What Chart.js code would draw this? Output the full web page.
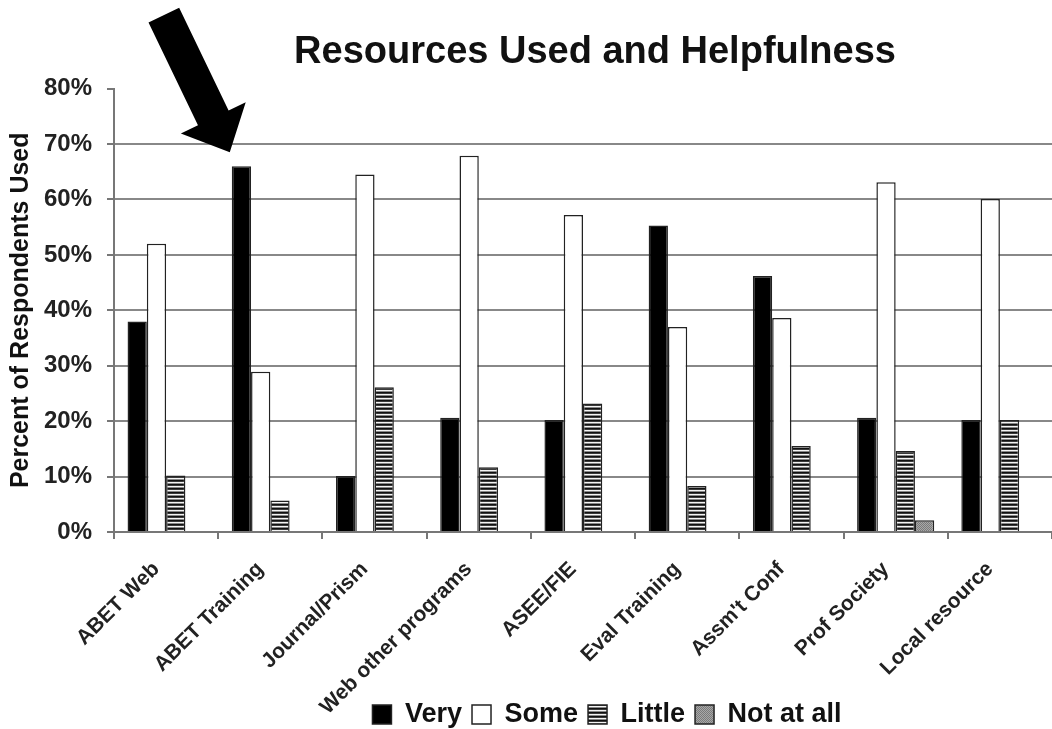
<!DOCTYPE html>
<html>
<head>
<meta charset="utf-8">
<script src="https://cdn.jsdelivr.net/npm/chart.js@4"></script>
<style>
html,body{margin:0;padding:0;background:#fff;}
canvas{display:block;}
</style>
</head>
<body>
<canvas id="c" width="1052" height="729"></canvas>
<script>
const categories = ['ABET Web','ABET Training','Journal/Prism','Web other programs','ASEE/FIE','Eval Training',"Assm't Conf",'Prof Society','Local resource'];
const seriesNames = ['Very','Some','Little','Not at all'];
const very     = [38.0, 66.0, 10.1, 20.6, 20.2, 55.3, 46.2, 20.6, 20.2];
const some     = [52.0, 28.9, 64.5, 67.9, 57.2, 37.0, 38.6, 63.1, 60.1];
const little   = [10.2,  5.7, 26.1, 11.7, 23.2,  8.3, 15.5, 14.6, 20.2];
const notAtAll = [ 0,    0,    0,    0,    0,    0,    0,    2.1,  0  ];
const yTickValues = [0,10,20,30,40,50,60,70,80];
const chartTitle = 'Resources Used and Helpfulness';
const yTitle = 'Percent of Respondents Used';
const highlightedCategory = 1; // arrow points at ABET Training

function stripePattern(){
  const c = document.createElement('canvas'); c.width = 4; c.height = 4;
  const g = c.getContext('2d');
  const rows = ['#111','#3a3a3a','#f4f4f4','#888'];
  rows.forEach((col,i)=>{ g.fillStyle = col; g.fillRect(0,i,4,1); });
  return g.createPattern(c,'repeat');
}
function dotPattern(){
  const c = document.createElement('canvas'); c.width = 2; c.height = 2;
  const g = c.getContext('2d');
  g.fillStyle = '#a8a8a8'; g.fillRect(0,0,2,2);
  g.fillStyle = '#7a7a7a'; g.fillRect(0,0,1,1); g.fillRect(1,1,1,1);
  return g.createPattern(c,'repeat');
}

const fills = ['#000000','#ffffff',stripePattern(),dotPattern()];
const values = [very, some, little, notAtAll];

const arrowPlugin = {
  id: 'arrow',
  afterDatasetsDraw(chart){
    const meta = chart.getDatasetMeta(0);
    const bar = meta.data[highlightedCategory];
    if(!bar) return;
    const ctx = chart.ctx;
    const tipX = bar.x - bar.width/2 - 2;
    const tipY = bar.y - 14;
    const ang = Math.atan2(135, 65);
    const len = 152, headLen = 38, shaftHalf = 17, headHalf = 36;
    const ux = Math.cos(ang), uy = Math.sin(ang);
    const px = -uy, py = ux;
    const bx = tipX - ux*headLen, by = tipY - uy*headLen;
    const tx = tipX - ux*len, ty = tipY - uy*len;
    ctx.save();
    ctx.fillStyle = '#000';
    ctx.beginPath();
    ctx.moveTo(tipX, tipY);
    ctx.lineTo(bx + px*headHalf, by + py*headHalf);
    ctx.lineTo(bx + px*shaftHalf, by + py*shaftHalf);
    ctx.lineTo(tx + px*shaftHalf, ty + py*shaftHalf);
    ctx.lineTo(tx - px*shaftHalf, ty - py*shaftHalf);
    ctx.lineTo(bx - px*shaftHalf, by - py*shaftHalf);
    ctx.lineTo(bx - px*headHalf, by - py*headHalf);
    ctx.closePath();
    ctx.fill();
    ctx.restore();
  }
};

// nudge title/legend placement and let the rotated x labels run beside the legend
const layoutPlugin = {
  id: 'layoutTweaks',
  afterLayout(chart){
    const t = chart.titleBlock, lg = chart.legend, xs = chart.scales.x;
    if(t){ t.left += 12; t.right += 12; }
    if(lg){ lg.left += 24; lg.right += 24; lg.top += 9; lg.bottom += 9; }
    if(xs){ xs.bottom = chart.height; }
  }
};

const FONT = "'Liberation Sans', Arial, sans-serif";

new Chart(document.getElementById('c'), {
  type: 'bar',
  data: {
    labels: categories,
    datasets: seriesNames.map((n,i)=>({
      label: n,
      data: values[i],
      backgroundColor: fills[i],
      borderColor: '#222',
      borderWidth: 1.5,
      categoryPercentage: 0.74,
      barPercentage: 1.0
    }))
  },
  options: {
    responsive: false,
    devicePixelRatio: 1,
    animation: false,
    layout: { padding: { left: 0, right: 0, top: 0, bottom: 0 } },
    plugins: {
      title: {
        display: true,
        fullSize: false,
        text: chartTitle,
        color: '#111',
        font: { family: FONT, size: 38, weight: 'bold' },
        padding: { top: 30, bottom: 13 }
      },
      legend: {
        display: true,
        fullSize: false,
        position: 'bottom',
        labels: {
          color: '#111',
          font: { family: FONT, size: 27, weight: 'bold' },
          boxWidth: 19, boxHeight: 19,
          padding: 10
        }
      },
      tooltip: { enabled: false }
    },
    scales: {
      x: {
        grid: { display: true, drawOnChartArea: false, drawTicks: true, tickLength: 7, color: '#777', lineWidth: 2, offset: true },
        border: { display: true, color: '#777', width: 2 },
        ticks: {
          autoSkip: false, minRotation: 45, maxRotation: 45,
          color: '#222', font: { family: FONT, size: 21, weight: 'bold' },
          labelOffset: -10, padding: 18
        },
        afterFit(scale){ scale.height = 150; }
      },
      y: {
        min: 0, max: 80,
        afterBuildTicks(scale){ scale.ticks = yTickValues.map(v=>({value:v})); },
        ticks: {
          callback: v => v + '%',
          color: '#222', font: { family: FONT, size: 24, weight: 'bold' }, padding: 15
        },
        grid: {
          color: c => (c.tick && c.tick.value === 80) ? 'rgba(0,0,0,0)' : '#888',
          tickColor: '#777', lineWidth: 2, tickLength: 7
        },
        border: { display: true, color: '#777', width: 2 },
        title: {
          display: true, text: yTitle, color: '#111',
          font: { family: FONT, size: 25, weight: 'bold' }, padding: { top: 6, bottom: 0 }
        },
        afterFit(scale){ scale.width = 114; }
      }
    }
  },
  plugins: [arrowPlugin, layoutPlugin]
});
</script>
</body>
</html>
